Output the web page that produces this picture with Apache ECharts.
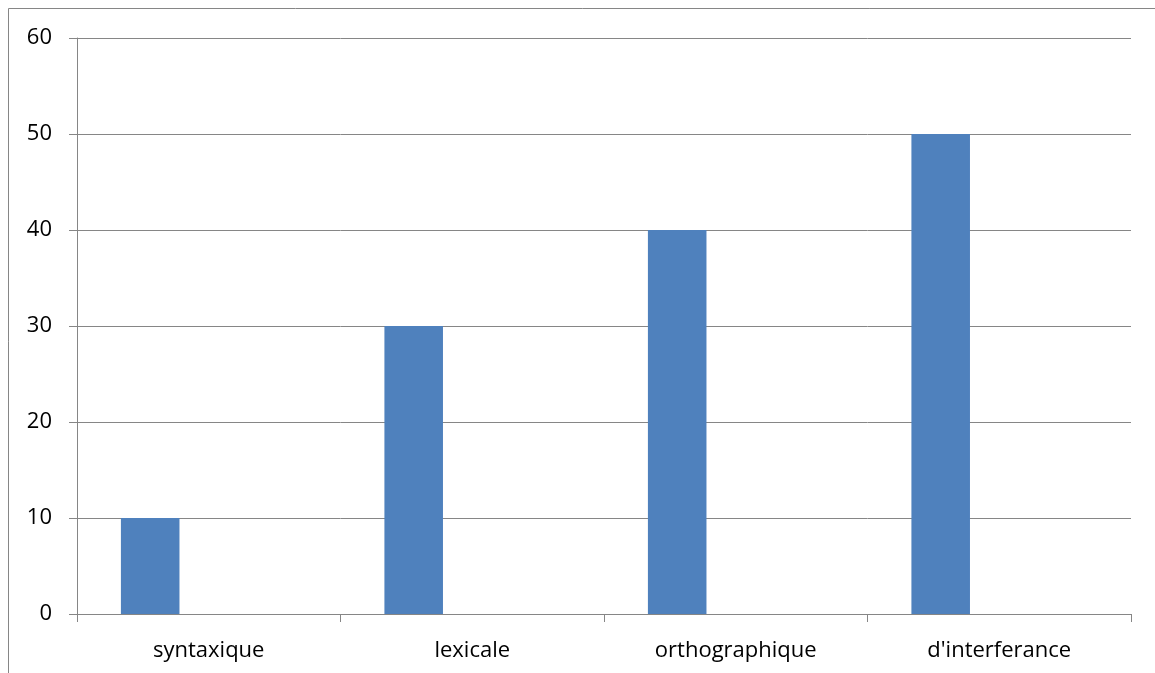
<!DOCTYPE html>
<html>
<head>
<meta charset="utf-8">
<style>
  html, body { margin: 0; padding: 0; background: #fff; }
  #chart { width: 1155px; height: 673px; }
</style>
<script src="https://cdn.jsdelivr.net/npm/echarts@6/dist/echarts.min.js"></script>
</head>
<body>
<div id="chart"></div>
<script>
// Error types and their counts
const categories = ["syntaxique", "lexicale", "orthographique", "d'interferance"];
const errorCounts = [10, 30, 40, 50];
// Two further series have no values; they only hold their slots in each group
const emptySeriesA = [null, null, null, null];
const emptySeriesB = [null, null, null, null];
const yTicks = { min: 0, max: 60, interval: 10 };

const gray = '#868686';
const font = "'Open Sans', 'Noto Sans', sans-serif";

const chart = echarts.init(document.getElementById('chart'), null, { renderer: 'canvas' });
chart.setOption({
  animation: false,
  backgroundColor: '#ffffff',
  graphic: [{
    type: 'rect',
    shape: { x: 8.5, y: 8.5, width: 1300, height: 800 },
    style: { fill: 'none', stroke: gray, lineWidth: 1 },
    silent: true,
    z: -10
  }],
  grid: { left: 77, right: 24, top: 38, bottom: 59, containLabel: false },
  xAxis: {
    type: 'category',
    data: categories,
    boundaryGap: true,
    axisLine: { show: true, lineStyle: { color: gray, width: 1 } },
    axisTick: { show: true, length: 8, lineStyle: { color: gray } },
    axisLabel: { color: '#000', fontSize: 22, fontFamily: font, margin: 26 }
  },
  yAxis: {
    type: 'value',
    min: yTicks.min,
    max: yTicks.max,
    interval: yTicks.interval,
    axisLine: { show: true, lineStyle: { color: gray, width: 1 } },
    axisTick: { show: true, length: 8, lineStyle: { color: gray } },
    axisLabel: { color: '#000', fontSize: 22, fontFamily: font, margin: 25 },
    splitLine: { show: true, lineStyle: { color: gray, width: 1 } }
  },
  series: [
    {
      type: 'bar',
      data: errorCounts,
      itemStyle: { color: '#4F81BD' },
      barGap: '0%',
      barCategoryGap: '33.33%'
    },
    { type: 'bar', data: emptySeriesA, itemStyle: { color: '#C0504D' } },
    { type: 'bar', data: emptySeriesB, itemStyle: { color: '#9BBB59' } }
  ]
});
</script>
</body>
</html>
